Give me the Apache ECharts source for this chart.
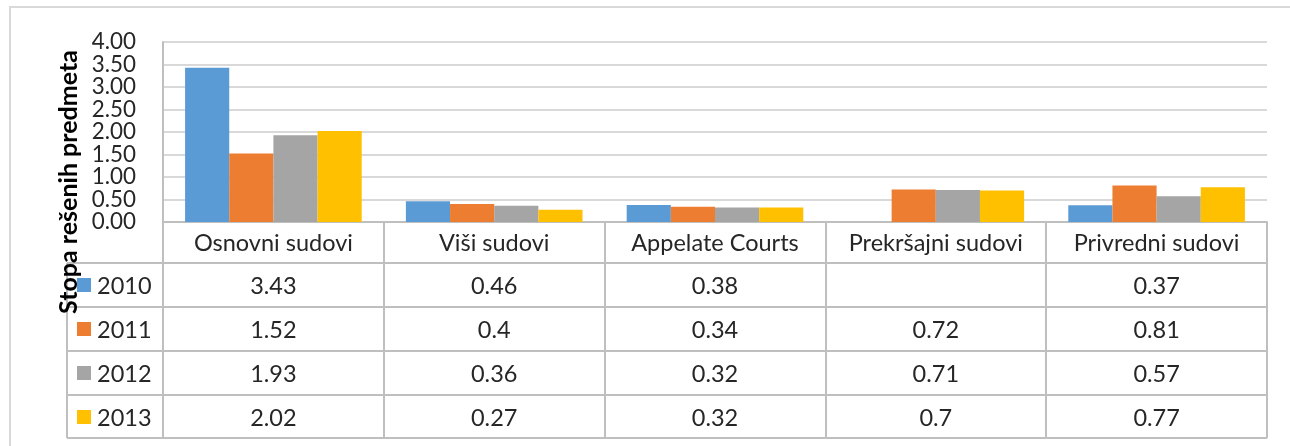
<!DOCTYPE html>
<html>
<head>
<meta charset="utf-8">
<script src="https://cdn.jsdelivr.net/npm/echarts@6/dist/echarts.min.js"></script>
<style>
html,body{margin:0;padding:0;background:#fff;}
#c{width:1290px;height:446px;}
</style>
</head>
<body>
<div id="c"></div>
<script>
const categories = ['Osnovni sudovi', 'Viši sudovi', 'Appelate Courts', 'Prekršajni sudovi', 'Privredni sudovi'];
const years = ['2010', '2011', '2012', '2013'];
const v2010 = [3.43, 0.46, 0.38, null, 0.37];
const v2011 = [1.52, 0.4, 0.34, 0.72, 0.81];
const v2012 = [1.93, 0.36, 0.32, 0.71, 0.57];
const v2013 = [2.02, 0.27, 0.32, 0.7, 0.77];
const yAxisTitle = 'Stopa rešenih predmeta';
const colors = ['#5B9BD5', '#ED7D31', '#A5A5A5', '#FFC000'];

const seriesValues = [v2010, v2011, v2012, v2013];
const FONT = 'Lato';
const FS = 23.5;
const TXT = '#262626';
const LINE = '#bfbfbf';

const chart = echarts.init(document.getElementById('c'), null, {renderer: 'canvas'});

const option = {
  animation: false,
  backgroundColor: '#ffffff',
  textStyle: {fontFamily: FONT},
  grid: {left: 163, right: 23, top: 42, height: 180, containLabel: false},
  xAxis: {
    type: 'category',
    data: categories,
    axisLine: {show: true, lineStyle: {color: LINE, width: 2}},
    axisTick: {show: true, interval: 0, length: 216, lineStyle: {color: LINE, width: 2}},
    axisLabel: {color: TXT, fontSize: FS, fontFamily: FONT, margin: 9, interval: 0, hideOverlap: false}
  },
  yAxis: {
    type: 'value',
    min: 0, max: 4, interval: 0.5,
    axisLine: {show: true, lineStyle: {color: LINE, width: 2}},
    axisTick: {show: false},
    splitLine: {lineStyle: {color: '#d9d9d9', width: 2}},
    axisLabel: {color: TXT, fontSize: 22.4, lineHeight: 20, fontFamily: FONT, margin: 27,
      formatter: v => v.toFixed(2)}
  },
  series: years.map((y, i) => ({
    name: y,
    type: 'bar',
    data: seriesValues[i],
    barGap: '0%',
    barCategoryGap: '20%',
    itemStyle: {color: colors[i]}
  }))
};
chart.setOption(option);

// Build data table + legend + axis title from the data arrays
const headerBottom = 263;
const rowH = 44;
const tableLeft = 67;
const tableRight = 1267;
const g = [];
// outer frame
g.push({type: 'rect', shape: {x: 10, y: 7, width: 1320, height: 480},
  style: {fill: 'none', stroke: '#d9d9d9', lineWidth: 2}, silent: true});
// horizontal row lines
for (let r = 0; r <= years.length; r++) {
  const y = headerBottom + r * rowH - (r === years.length ? 1 : 0);
  g.push({type: 'line', shape: {x1: tableLeft, y1: y, x2: tableRight, y2: y},
    style: {stroke: LINE, lineWidth: 2}, silent: true});
}
// legend column left border
g.push({type: 'line', shape: {x1: tableLeft, y1: headerBottom, x2: tableLeft, y2: headerBottom + years.length * rowH - 1},
  style: {stroke: LINE, lineWidth: 2}, silent: true});
// legend entries + values
years.forEach((yr, i) => {
  const cy = headerBottom + i * rowH + rowH / 2;
  g.push({type: 'rect', shape: {x: 77, y: cy - 7, width: 14, height: 14},
    style: {fill: colors[i]}, silent: true});
  g.push({type: 'text', x: 97, y: cy + 1,
    style: {text: yr, fill: TXT, font: FS + 'px ' + FONT, textAlign: 'left', textVerticalAlign: 'middle'}, silent: true});
  categories.forEach((cat, j) => {
    const v = seriesValues[i][j];
    if (v === null || v === undefined) return;
    const cx = chart.convertToPixel({xAxisIndex: 0}, cat);
    g.push({type: 'text', x: cx, y: cy + 1,
      style: {text: String(v), fill: TXT, font: FS + 'px ' + FONT, textAlign: 'center', textVerticalAlign: 'middle'}, silent: true});
  });
});
// y axis title
g.push({type: 'text', x: 69, y: 182, rotation: Math.PI / 2,
  style: {text: yAxisTitle, fill: '#000', font: 'bold 25px ' + FONT, textAlign: 'center', textVerticalAlign: 'middle'}, silent: true});

chart.setOption({graphic: {elements: g}});
</script>
</body>
</html>
